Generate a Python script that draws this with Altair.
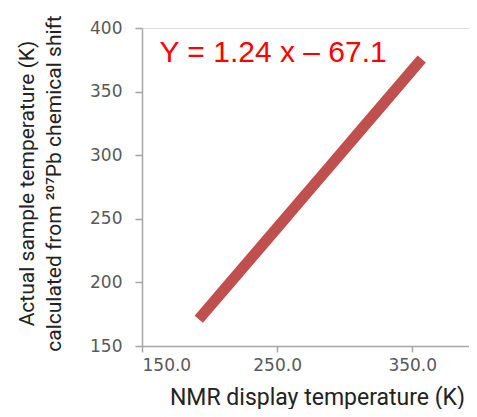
import altair as alt
import pandas as pd

# Data
nmr_temp = [192, 210, 230, 250, 270, 290, 310, 330, 357]
actual_temp = [171.0, 193.3, 218.1, 242.9, 267.7, 292.5, 317.3, 342.1, 375.6]

x_ticks = [150, 250, 350]
y_ticks = [150, 200, 250, 300, 350, 400]

eq_text = ["Y = 1.24 x \u2013 67.1"]
eq_x = [163]
eq_y = [373]

df = pd.DataFrame({"x": nmr_temp, "y": actual_temp})
df_eq = pd.DataFrame({"x": eq_x, "y": eq_y, "t": eq_text})

x_scale = alt.Scale(domain=[150, 392], nice=False, zero=False)
y_scale = alt.Scale(domain=[150, 400], nice=False, zero=False)

x_axis = alt.Axis(
    values=x_ticks, format=".1f", grid=False,
    title="NMR display temperature (K)",
    titleFont="Roboto", titleFontSize=23, titleFontWeight="normal",
    titleColor="#222222", titleX=175, titleY=58, titleAlign="center",
    titleBaseline="alphabetic", titleAnchor="start",
    labelFont="DejaVu Sans", labelFontSize=17, labelColor="#595959",
    labelPadding=5, tickSize=6, tickColor="#a6a6a6", domainColor="#a6a6a6",
    domainWidth=1.5, tickWidth=1.5,
)
y_axis = alt.Axis(
    values=y_ticks, grid=False,
    title=["Actual sample temperature (K)", "calculated from \u00b2\u2070\u2077Pb chemical shift"],
    titleFont="Roboto", titleFontSize=21, titleFontWeight="normal",
    titleColor="#222222", titleX=-109, titleY=155, titleAngle=-90,
    titleAlign="center", titleBaseline="alphabetic", titleLineHeight=27, titleAnchor="start",
    labelFont="DejaVu Sans", labelFontSize=17, labelColor="#595959",
    labelPadding=13, tickSize=7, tickColor="#a6a6a6", domainColor="#a6a6a6",
    domainWidth=1.5, tickWidth=1.5,
)

line = alt.Chart(df).mark_line(color="#C0504D", strokeWidth=11, strokeCap="butt").encode(
    x=alt.X("x:Q", scale=x_scale, axis=x_axis),
    y=alt.Y("y:Q", scale=y_scale, axis=y_axis),
)

eq = alt.Chart(df_eq).mark_text(
    font="Liberation Sans", fontSize=30, color="#FF0000", align="left", baseline="alphabetic"
).encode(
    x=alt.X("x:Q", scale=x_scale),
    y=alt.Y("y:Q", scale=y_scale),
    text="t:N",
)

chart = alt.layer(line, eq).properties(
    width=327, height=318,
    autosize=alt.AutoSizeParams(type="none"),
    padding={"left": 134, "top": 20, "right": 0, "bottom": 63},
).configure_view(stroke=None).configure(background="white")

chart.save("out.html", embed_options={"renderer": "svg", "actions": False})
